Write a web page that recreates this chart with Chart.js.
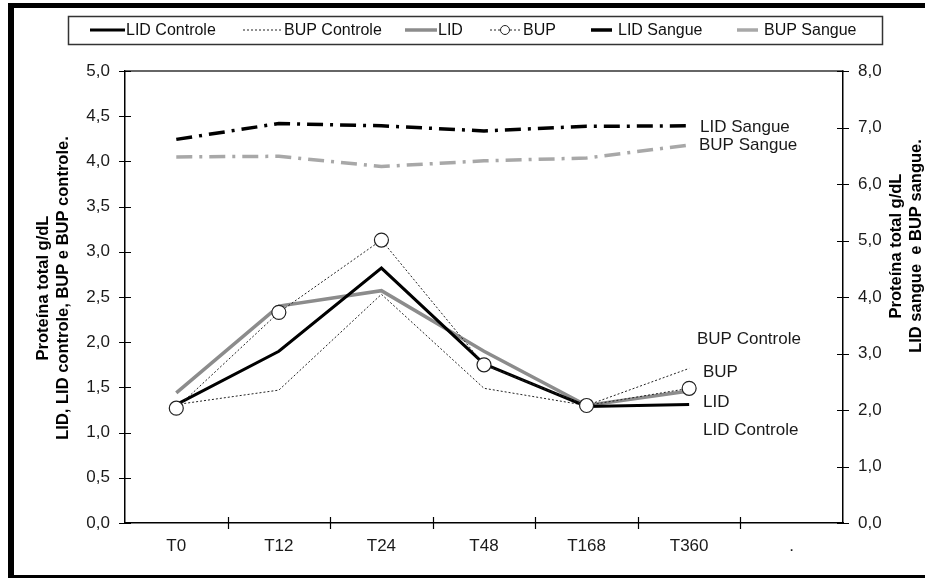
<!DOCTYPE html>
<html>
<head>
<meta charset="utf-8">
<script src="https://cdn.jsdelivr.net/npm/chart.js@4.4.1/dist/chart.umd.min.js"></script>
<style>
  body { margin: 0; background: #fff; }
  #wrap { position: relative; width: 925px; height: 578px; overflow: hidden; }
  #frame { position: absolute; left: 8px; top: 3px; width: 930px; height: 567px;
           border-left: 6px solid #000; border-top: 5px solid #000; border-bottom: 5px solid #000; }
  canvas { position: absolute; left: 0; top: 0; }
</style>
</head>
<body>
<div id="wrap">
  <canvas id="grafico" width="925" height="578"></canvas>
  <div id="frame"></div>
</div>
<script>
// categorias (o ultimo "." fica vazio, como no original)
const tempos = ['T0', 'T12', 'T24', 'T48', 'T168', 'T360', '.'];

// eixo esquerdo (g/dL)
const lidControle = [1.31, 1.90, 2.82, 1.76, 1.29, 1.31];
const bupControle = [1.31, 1.47, 2.53, 1.49, 1.30, 1.71];
const lid         = [1.44, 2.40, 2.57, 1.90, 1.30, 1.46];
const bup         = [1.27, 2.33, 3.13, 1.75, 1.30, 1.49];

// eixo direito (g/dL)
const lidSangue = [6.79, 7.07, 7.03, 6.94, 7.02, 7.03];
const bupSangue = [6.48, 6.49, 6.31, 6.41, 6.46, 6.69];

// ticks
const ticksEsq = [0, 0.5, 1, 1.5, 2, 2.5, 3, 3.5, 4, 4.5, 5];
const ticksDir = [0, 1, 2, 3, 4, 5, 6, 7, 8];

const fonte = "'Liberation Sans', Arial, sans-serif";
const preto = '#000';
const cinza = '#8c8c8c';
const cinzaClaro = '#a8a8a8';
const traco = [16, 7, 3, 7];

function virgula(v) { return Number(v).toFixed(1).replace('.', ','); }

// legenda desenhada na mao, dentro da caixa
const itensLegenda = [
  { texto: 'LID Controle', x0: 90,  x1: 125, tx: 126, cor: preto, w: 3,   dash: [] },
  { texto: 'BUP Controle', x0: 243, x1: 282, tx: 284, cor: '#222', w: 1,  dash: [2, 2] },
  { texto: 'LID',          x0: 405, x1: 437, tx: 438, cor: cinza, w: 3.5, dash: [] },
  { texto: 'BUP',          x0: 490, x1: 520, tx: 523, cor: '#222', w: 1,  dash: [2, 2], circulo: true },
  { texto: 'LID Sangue',   x0: 591, x1: 612, tx: 618, cor: preto, w: 3.5, dash: [] },
  { texto: 'BUP Sangue',   x0: 737, x1: 758, tx: 764, cor: cinzaClaro, w: 3.5, dash: [] }
];

// rotulos ao lado das linhas
const rotulos = [
  { texto: 'LID Sangue',   x: 700, y: 127 },
  { texto: 'BUP Sangue',   x: 699, y: 145 },
  { texto: 'BUP Controle', x: 697, y: 339 },
  { texto: 'BUP',          x: 703, y: 372 },
  { texto: 'LID',          x: 703, y: 402 },
  { texto: 'LID Controle', x: 703, y: 430 }
];

const extras = {
  id: 'extras',
  afterDraw(chart) {
    const ctx = chart.ctx;
    const a = chart.chartArea;
    const sx = chart.scales.x, sy = chart.scales.y, sy1 = chart.scales.y1;
    ctx.save();

    // linha de cima da area do grafico
    ctx.strokeStyle = '#333';
    ctx.lineWidth = 1.5;
    ctx.beginPath();
    ctx.moveTo(a.left, a.top); ctx.lineTo(a.right, a.top);
    ctx.stroke();

    // tracinhos cruzando os eixos
    ctx.strokeStyle = preto;
    ctx.lineWidth = 1.2;
    ctx.beginPath();
    sy.ticks.forEach((t, i) => {
      const p = Math.round(sy.getPixelForTick(i)) + 0.5;
      ctx.moveTo(a.left - 6, p); ctx.lineTo(a.left + 6, p);
    });
    sy1.ticks.forEach((t, i) => {
      const p = Math.round(sy1.getPixelForTick(i)) + 0.5;
      ctx.moveTo(a.right - 6, p); ctx.lineTo(a.right + 6, p);
    });
    for (let i = 1; i < tempos.length; i++) {
      const p = Math.round((sx.getPixelForValue(i - 1) + sx.getPixelForValue(i)) / 2) + 0.5;
      ctx.moveTo(p, a.bottom - 6); ctx.lineTo(p, a.bottom + 6);
    }
    ctx.stroke();

    // caixa da legenda
    ctx.strokeStyle = '#333';
    ctx.lineWidth = 1.5;
    ctx.strokeRect(68.5, 16.5, 814, 28);
    ctx.font = '16px ' + fonte;
    ctx.textBaseline = 'middle';
    ctx.textAlign = 'left';
    itensLegenda.forEach(it => {
      ctx.strokeStyle = it.cor;
      ctx.lineWidth = it.w;
      ctx.setLineDash(it.dash);
      ctx.beginPath();
      ctx.moveTo(it.x0, 30); ctx.lineTo(it.x1, 30);
      ctx.stroke();
      ctx.setLineDash([]);
      if (it.circulo) {
        ctx.beginPath();
        ctx.arc((it.x0 + it.x1) / 2, 30, 4.5, 0, Math.PI * 2);
        ctx.fillStyle = '#fff';
        ctx.fill();
        ctx.lineWidth = 1;
        ctx.stroke();
      }
      ctx.fillStyle = '#111';
      ctx.fillText(it.texto, it.tx, 31);
    });

    // rotulos das series
    ctx.font = '17px ' + fonte;
    ctx.fillStyle = '#1a1a1a';
    rotulos.forEach(r => ctx.fillText(r.texto, r.x, r.y));

    // titulos dos eixos
    ctx.font = 'bold 16.5px ' + fonte;
    ctx.fillStyle = preto;
    ctx.textAlign = 'center';
    ctx.save();
    ctx.translate(53, 288);
    ctx.rotate(-Math.PI / 2);
    ctx.fillText('Proteína total g/dL', 0, -10);
    ctx.fillText('LID, LID controle, BUP e BUP controle.', 0, 10);
    ctx.restore();
    ctx.save();
    ctx.translate(906, 246);
    ctx.rotate(-Math.PI / 2);
    ctx.fillText('Proteína total g/dL', 0, -10);
    ctx.fillText('LID sangue  e BUP sangue.', 0, 10);
    ctx.restore();

    ctx.restore();
  }
};

const linha = (label, data, cor, w, dash, eixo, ordem) => ({
  label: label, data: data, borderColor: cor, backgroundColor: cor,
  borderWidth: w, borderDash: dash, yAxisID: eixo, order: ordem,
  pointRadius: 0, tension: 0, fill: false
});

const datasets = [
  linha('LID Controle', lidControle, preto, 3, [], 'y', 2),
  linha('BUP Controle', bupControle, '#222', 1, [2, 2], 'y', 2),
  linha('LID', lid, cinza, 3.5, [], 'y', 3),
  Object.assign(linha('BUP', bup, '#222', 1, [2, 2], 'y', 0), {
    pointRadius: 7, pointStyle: 'circle', pointBackgroundColor: '#fff',
    pointBorderColor: '#222', pointBorderWidth: 1.2
  }),
  linha('LID Sangue', lidSangue, preto, 3.5, traco, 'y1', 1),
  linha('BUP Sangue', bupSangue, cinzaClaro, 3.5, traco, 'y1', 1)
];

const tickFont = { family: fonte, size: 17 };

new Chart(document.getElementById('grafico'), {
  type: 'line',
  data: { labels: tempos, datasets: datasets },
  options: {
    responsive: false,
    animation: false,
    layout: { padding: { top: 71, left: 0, right: 0, bottom: 0 } },
    plugins: { legend: { display: false }, tooltip: { enabled: false } },
    scales: {
      x: {
        offset: true,
        grid: { display: true, drawOnChartArea: false, drawTicks: false, offset: true },
        border: { color: preto, width: 1.5 },
        ticks: { font: tickFont, color: '#1a1a1a', padding: 13, maxRotation: 0 },
        afterFit: s => { s.height = 55; }
      },
      y: {
        position: 'left', min: 0, max: 5,
        afterBuildTicks: s => { s.ticks = ticksEsq.map(v => ({ value: v })); },
        grid: { drawOnChartArea: false, drawTicks: false },
        border: { color: preto, width: 1.5 },
        ticks: { font: tickFont, color: '#1a1a1a', padding: 15, callback: v => virgula(v) },
        afterFit: s => { s.width = 125; }
      },
      y1: {
        position: 'right', min: 0, max: 8,
        afterBuildTicks: s => { s.ticks = ticksDir.map(v => ({ value: v })); },
        grid: { drawOnChartArea: false, drawTicks: false },
        border: { color: preto, width: 1.5 },
        ticks: { font: tickFont, color: '#1a1a1a', padding: 15, callback: v => virgula(v) },
        afterFit: s => { s.width = 82; }
      }
    }
  },
  plugins: [extras]
});
</script>
</body>
</html>
